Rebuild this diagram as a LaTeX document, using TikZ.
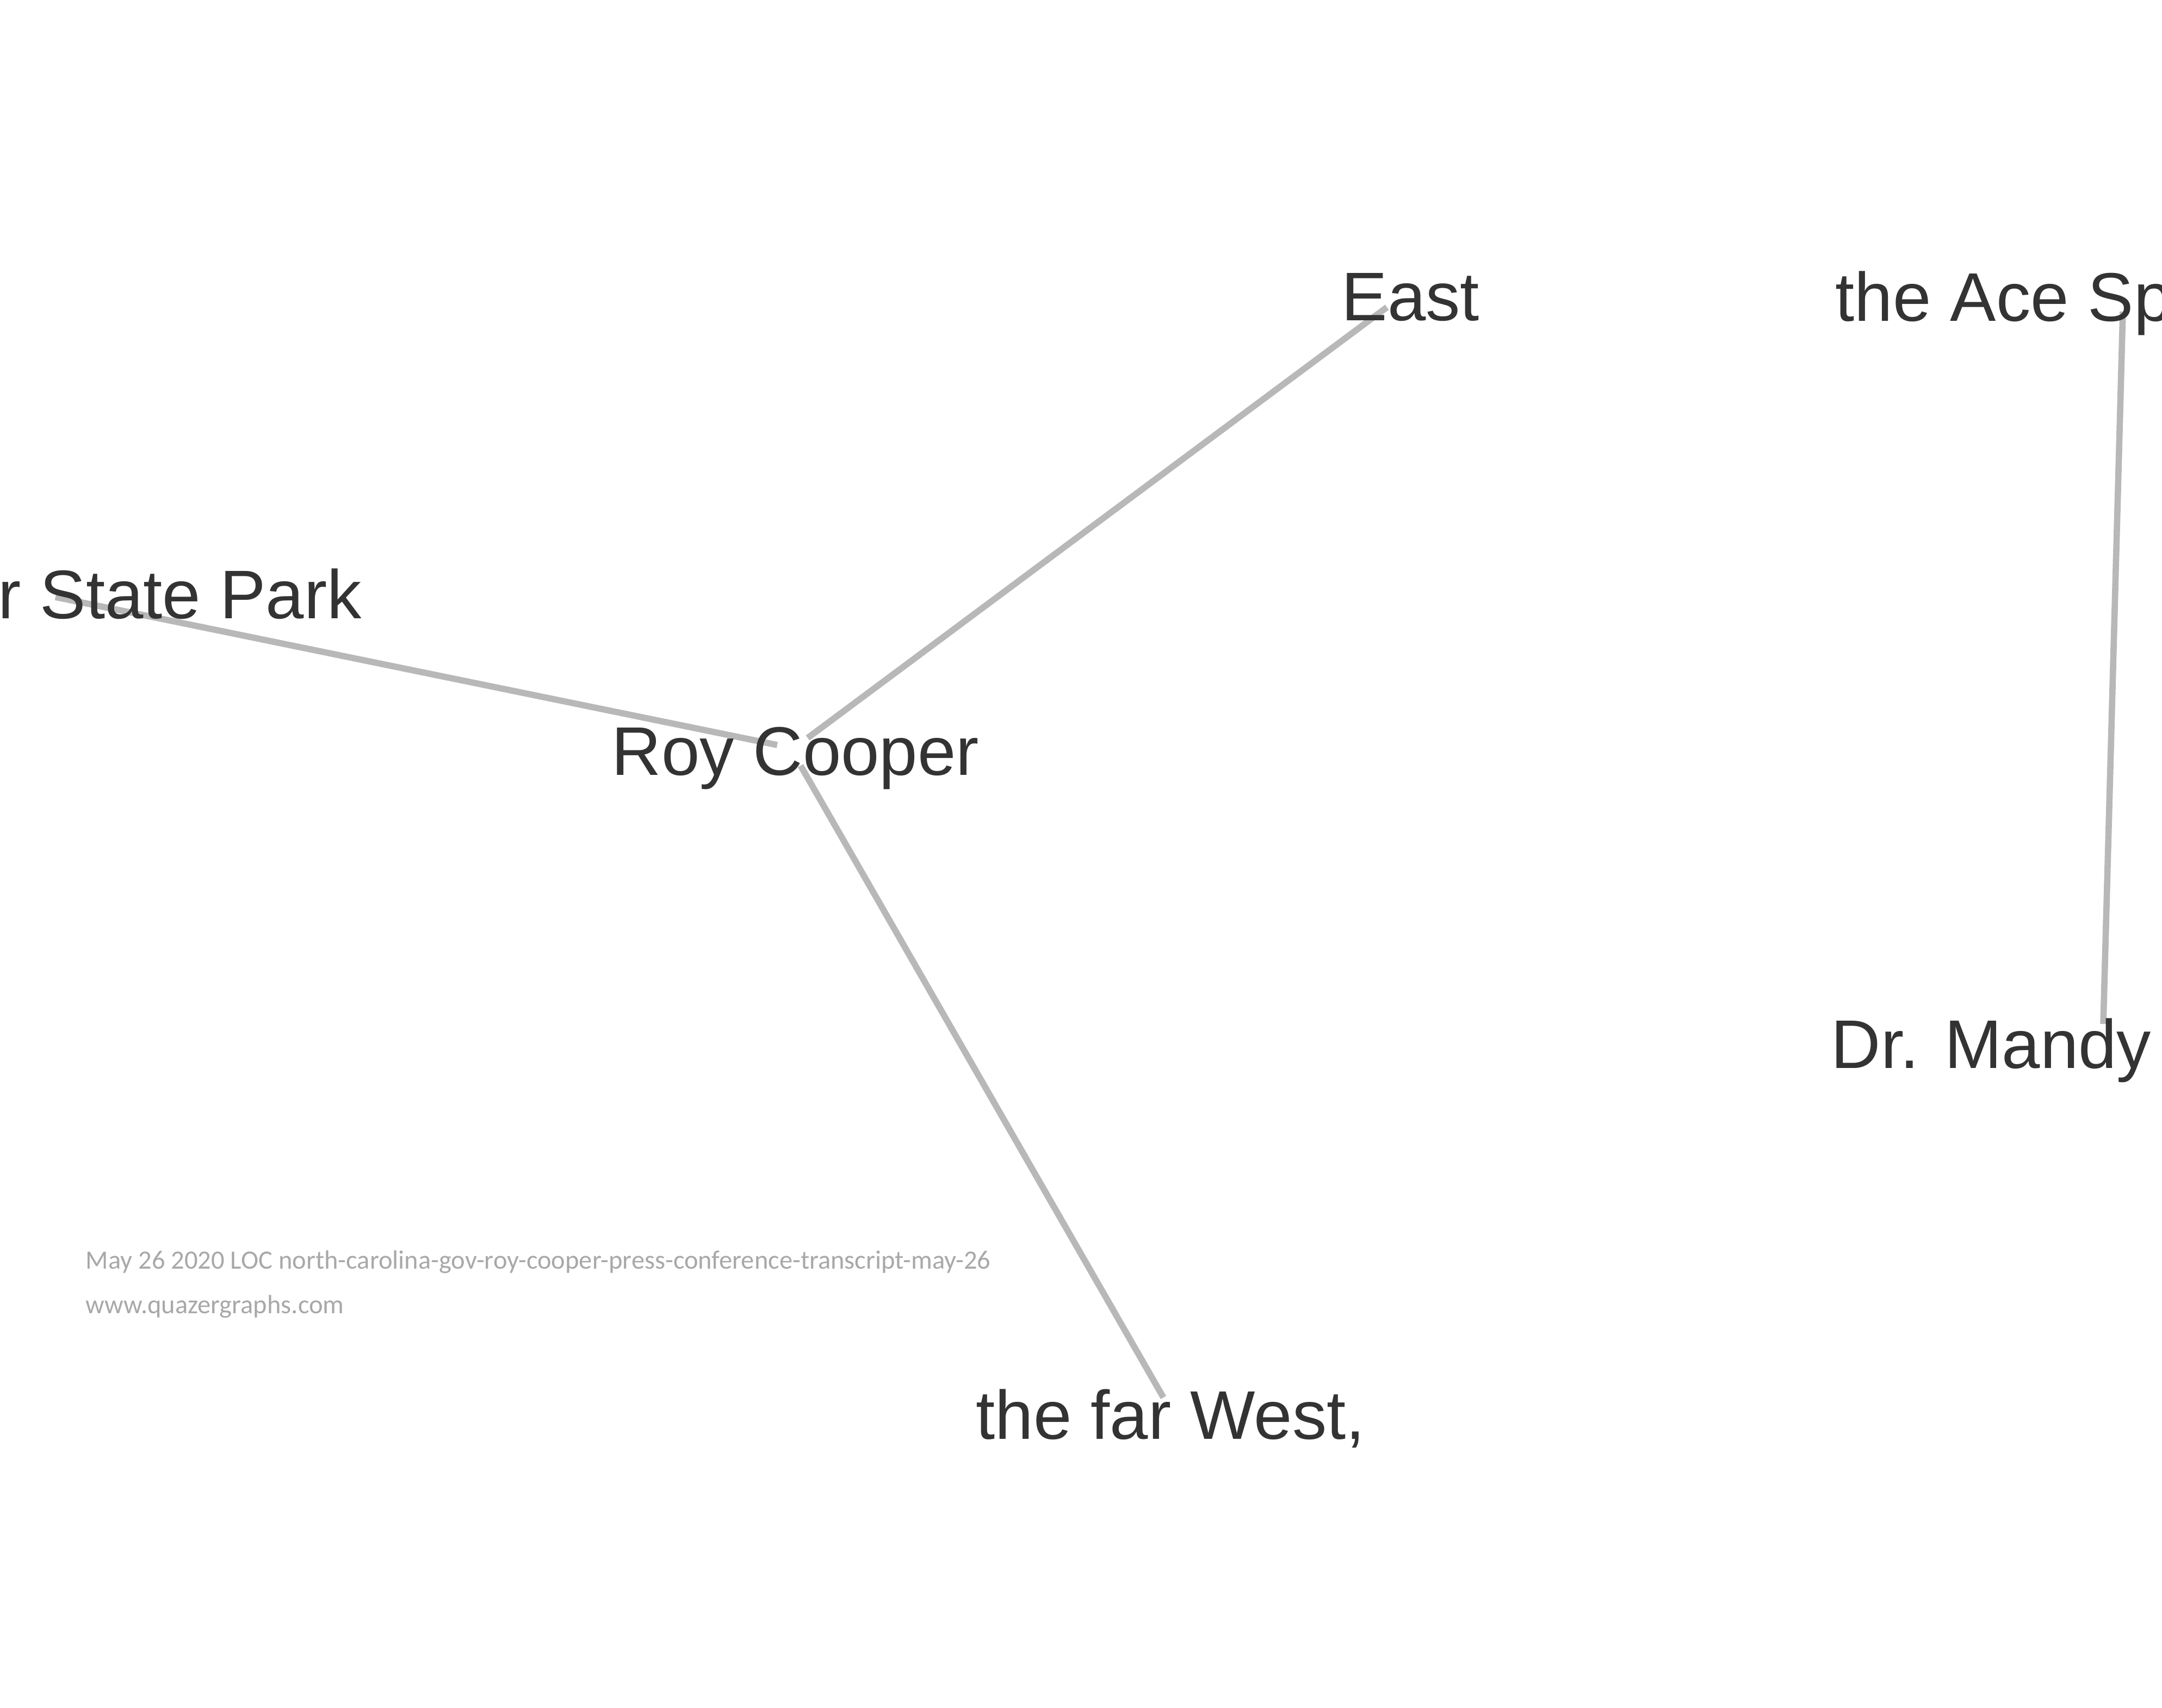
\documentclass[tikz,border=0pt]{standalone}
\usepackage{fontspec}
\setmainfont{Liberation Sans}
\newfontfamily\footfont{Carlito}
\usepackage{tikz}
\definecolor{labelgray}{HTML}{333333}
\definecolor{edgegray}{HTML}{B8B8B8}
\definecolor{footgray}{HTML}{A8A8A8}
\tikzset{
  vlabel/.style={anchor=base west, inner sep=0pt, text=labelgray,
    font=\fontsize{36}{43}\selectfont},
  vedge/.style={draw=edgegray, line width=3.3pt},
  footnote/.style={anchor=base west, inner sep=0pt, text=footgray,
    font=\footfont\fontsize{13.8}{16}\selectfont}
}
\begin{document}
\begin{tikzpicture}
        \useasboundingbox (0,0) rectangle (39.75,-31.40);
        \clip (0,0) rectangle (39.75,-31.40);

        % edge ends
        \coordinate (parkend) at (1.02,-10.98);
        \coordinate (roypark) at (14.29,-13.70);
        \coordinate (royeast) at (14.85,-13.57);
        \coordinate (eastend) at (25.50,-5.65);
        \coordinate (roywest) at (14.72,-14.08);
        \coordinate (westend) at (21.39,-25.70);
        \coordinate (aceend) at (39.03,-5.73);
        \coordinate (mandyend) at (38.67,-18.83);

        % edges
        \draw[vedge] (parkend) -- (roypark);
        \draw[vedge] (royeast) -- (eastend);
        \draw[vedge] (roywest) -- (westend);
        \draw[vedge] (aceend) -- (mandyend);

        % labels
        \node[vlabel] (park) at (-0.04,-11.37) {r State Park};
        \node[vlabel] (roy) at (11.24,-14.25) {Roy Cooper};
        \node[vlabel] (east) at (24.66,-5.89) {East};
        \node[vlabel] (ace) at (33.74,-5.90) {the Ace Sp};
        \node[vlabel] (mandy) at (33.66,-19.64) {Dr. Mandy};
        \node[vlabel] (west) at (17.94,-26.46) {the far West,};

        % footer
        \node[footnote] (source) at (1.57,-23.33) {May 26 2020 LOC north-carolina-gov-roy-cooper-press-conference-transcript-may-26};
        \node[footnote] (site) at (1.57,-24.15) {www.quazergraphs.com};

\end{tikzpicture}
\end{document}
